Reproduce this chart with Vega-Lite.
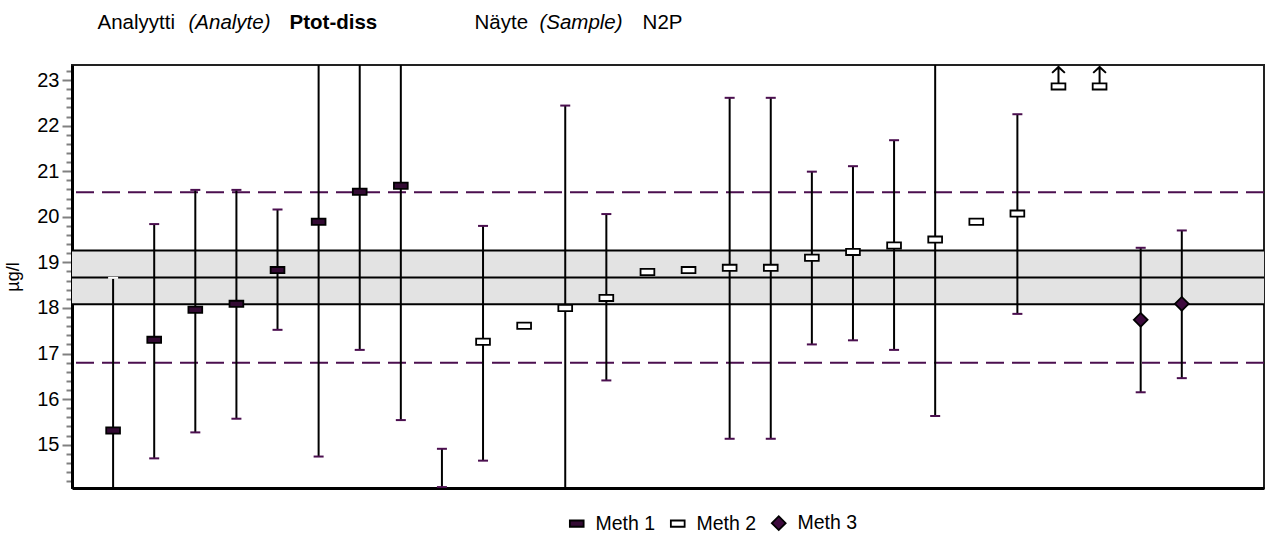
{
  "$schema": "https://vega.github.io/schema/vega-lite/v6.json",
  "width": 1192,
  "height": 423,
  "autosize": "none",
  "padding": {"left": 72, "top": 65, "right": 6, "bottom": 50},
  "background": "white",
  "config": {
    "font": "Liberation Sans",
    "view": {"stroke": "#222222", "strokeWidth": 2}
  },
  "datasets": {
    "labs": [
      {"lab": 1, "method": "Meth 1", "value": 15.31, "lo": 11.96, "hi": 18.66, "off": false},
      {"lab": 2, "method": "Meth 1", "value": 17.30, "lo": 14.70, "hi": 19.84, "off": false},
      {"lab": 3, "method": "Meth 1", "value": 17.96, "lo": 15.27, "hi": 20.59, "off": false},
      {"lab": 4, "method": "Meth 1", "value": 18.09, "lo": 15.57, "hi": 20.59, "off": false},
      {"lab": 5, "method": "Meth 1", "value": 18.83, "lo": 17.52, "hi": 20.16, "off": false},
      {"lab": 6, "method": "Meth 1", "value": 19.89, "lo": 14.74, "hi": 25.0, "off": false},
      {"lab": 7, "method": "Meth 1", "value": 20.55, "lo": 17.08, "hi": 24.0, "off": false},
      {"lab": 8, "method": "Meth 1", "value": 20.68, "lo": 15.54, "hi": 25.8, "off": false},
      {"lab": 9, "method": "Meth 1", "value": null, "lo": 14.07, "hi": 14.91, "off": false},
      {"lab": 10, "method": "Meth 2", "value": 17.26, "lo": 14.65, "hi": 19.80, "off": false},
      {"lab": 11, "method": "Meth 2", "value": 17.61, "lo": null, "hi": null, "off": false},
      {"lab": 12, "method": "Meth 2", "value": 18.00, "lo": 13.56, "hi": 22.44, "off": false},
      {"lab": 13, "method": "Meth 2", "value": 18.22, "lo": 16.41, "hi": 20.06, "off": false},
      {"lab": 14, "method": "Meth 2", "value": 18.79, "lo": null, "hi": null, "off": false},
      {"lab": 15, "method": "Meth 2", "value": 18.83, "lo": null, "hi": null, "off": false},
      {"lab": 16, "method": "Meth 2", "value": 18.88, "lo": 15.13, "hi": 22.61, "off": false},
      {"lab": 17, "method": "Meth 2", "value": 18.88, "lo": 15.13, "hi": 22.61, "off": false},
      {"lab": 18, "method": "Meth 2", "value": 19.10, "lo": 17.20, "hi": 20.99, "off": false},
      {"lab": 19, "method": "Meth 2", "value": 19.23, "lo": 17.29, "hi": 21.11, "off": false},
      {"lab": 20, "method": "Meth 2", "value": 19.37, "lo": 17.08, "hi": 21.68, "off": false},
      {"lab": 21, "method": "Meth 2", "value": 19.50, "lo": 15.63, "hi": 23.40, "off": false},
      {"lab": 22, "method": "Meth 2", "value": 19.89, "lo": null, "hi": null, "off": false},
      {"lab": 23, "method": "Meth 2", "value": 20.07, "lo": 17.87, "hi": 22.25, "off": false},
      {"lab": 24, "method": "Meth 2", "value": 22.86, "lo": null, "hi": null, "off": true},
      {"lab": 25, "method": "Meth 2", "value": 22.86, "lo": null, "hi": null, "off": true},
      {"lab": 26, "method": "Meth 3", "value": 17.74, "lo": 16.15, "hi": 19.32, "off": false},
      {"lab": 27, "method": "Meth 3", "value": 18.09, "lo": 16.46, "hi": 19.70, "off": false}
    ],
    "band": [{"lo": 18.08, "hi": 19.26}],
    "lines": [
      {"kind": "band edge", "y": 18.08},
      {"kind": "assigned", "y": 18.67},
      {"kind": "band edge", "y": 19.26}
    ],
    "limits": [
      {"kind": "lower limit", "y": 16.80},
      {"kind": "upper limit", "y": 20.54}
    ]
  },
  "layer": [
    {
      "data": {"name": "band"},
      "mark": {"type": "rect", "color": "#e3e3e3"},
      "encoding": {
        "y": {"field": "lo", "type": "quantitative", "scale": {"domain": [14.05, 23.33], "nice": false, "zero": false}, "axis": null},
        "y2": {"field": "hi"}
      }
    },
    {
      "data": {"name": "lines"},
      "mark": {"type": "rule", "color": "black", "strokeWidth": 2},
      "encoding": {
        "y": {"field": "y", "type": "quantitative", "scale": {"domain": [14.05, 23.33], "nice": false, "zero": false}, "axis": null}
      }
    },
    {
      "data": {"name": "limits"},
      "mark": {"type": "rule", "color": "#4b0f4f", "strokeWidth": 2, "strokeDash": [18, 8]},
      "encoding": {
        "y": {"field": "y", "type": "quantitative", "scale": {"domain": [14.05, 23.33], "nice": false, "zero": false},
              "axis": {
                "orient": "left", "title": null, "labels": false, "domain": false, "grid": false,
                "values": [14.2, 14.4, 14.6, 14.8, 15.2, 15.4, 15.6, 15.8, 16.2, 16.4, 16.6, 16.8, 17.2, 17.4, 17.6, 17.8, 18.2, 18.4, 18.6, 18.8, 19.2, 19.4, 19.6, 19.8, 20.2, 20.4, 20.6, 20.8, 21.2, 21.4, 21.6, 21.8, 22.2, 22.4, 22.6, 22.8, 23.2],
                "tickColor": "#808080", "tickWidth": 2, "tickSize": 6
              }}
      }
    },
    {
      "data": {"name": "labs"},
      "transform": [{"filter": "datum.lo != null"}],
      "mark": {"type": "rule", "color": "black", "strokeWidth": 2, "clip": true},
      "encoding": {
        "x": {"field": "lab", "type": "quantitative", "scale": {"domain": [0, 29], "nice": false, "zero": false},
              "axis": {"orient": "bottom", "labels": false, "ticks": false, "grid": false, "title": null, "domainColor": "black", "domainWidth": 3}},
        "y": {"field": "lo", "type": "quantitative", "scale": {"domain": [14.05, 23.33], "nice": false, "zero": false}, "axis": null},
        "y2": {"field": "hi"}
      }
    },
    {
      "data": {"name": "labs"},
      "transform": [{"filter": "datum.lo != null"}],
      "mark": {"type": "tick", "orient": "horizontal", "size": 10, "thickness": 2, "clip": true, "opacity": 1},
      "encoding": {
        "x": {"field": "lab", "type": "quantitative", "scale": {"domain": [0, 29], "nice": false, "zero": false}, "axis": null},
        "y": {"field": "lo", "type": "quantitative", "scale": {"domain": [14.05, 23.33], "nice": false, "zero": false}, "axis": null},
        "color": {"value": "#4b0f4f"}
      }
    },
    {
      "data": {"name": "labs"},
      "transform": [{"filter": "datum.hi != null"}],
      "mark": {"type": "tick", "orient": "horizontal", "size": 10, "thickness": 2, "clip": true, "opacity": 1},
      "encoding": {
        "x": {"field": "lab", "type": "quantitative", "scale": {"domain": [0, 29], "nice": false, "zero": false}, "axis": null},
        "y": {"field": "hi", "type": "quantitative", "scale": {"domain": [14.05, 23.33], "nice": false, "zero": false}, "axis": null},
        "color": {"condition": {"test": "datum.lab === 1", "value": "white"}, "value": "#4b0f4f"}
      }
    },
    {
      "data": {"name": "labs"},
      "transform": [{"filter": "datum.off"}],
      "mark": {"type": "point", "shape": "M0,1L0,-1M-0.75,-0.3L0,-1L0.75,-0.3", "filled": false, "stroke": "black", "strokeWidth": 2, "size": 289, "yOffset": -11, "opacity": 1, "clip": true},
      "encoding": {
        "x": {"field": "lab", "type": "quantitative", "scale": {"domain": [0, 29], "nice": false, "zero": false}, "axis": null},
        "y": {"field": "value", "type": "quantitative", "scale": {"domain": [14.05, 23.33], "nice": false, "zero": false}, "axis": null}
      }
    },
    {
      "data": {"name": "labs"},
      "mark": {"type": "point", "filled": true, "stroke": "black", "strokeWidth": 1.8, "size": 190, "opacity": 1, "clip": true},
      "encoding": {
        "x": {"field": "lab", "type": "quantitative", "scale": {"domain": [0, 29], "nice": false, "zero": false},
              "axis": {
                "orient": "top", "title": null, "domain": false, "ticks": false, "tickSize": 0, "grid": false,
                "values": [0.608, 2.822, 5.28, 9.78, 11.36, 13.87],
                "labelExpr": "datum.value < 1 ? 'Analyytti' : datum.value < 3 ? '(Analyte)' : datum.value < 6 ? 'Ptot-diss' : datum.value < 10 ? 'Näyte' : datum.value < 12 ? '(Sample)' : 'N2P'",
                "labelAlign": "left", "labelBaseline": "alphabetic", "labelPadding": 37,
                "labelFontSize": 20.5, "labelColor": "black", "labelFlush": false, "labelOverlap": false, "labelBound": false,
                "labelFontStyle": {"condition": {"test": "(datum.value > 2 && datum.value < 3) || (datum.value > 11 && datum.value < 12)", "value": "italic"}, "value": "normal"},
                "labelFontWeight": {"condition": {"test": "datum.value > 5 && datum.value < 6", "value": "bold"}, "value": "normal"}
              }},
        "y": {"field": "value", "type": "quantitative", "scale": {"domain": [14.05, 23.33], "nice": false, "zero": false},
              "axis": {
                "orient": "left",
                "title": "µg/l", "titleFontSize": 18, "titleFontWeight": "normal", "titleColor": "black", "titlePadding": 14,
                "grid": false, "domainColor": "black", "domainWidth": 3,
                "values": [15, 16, 17, 18, 19, 20, 21, 22, 23],
                "format": "d",
                "labelFontSize": 20, "labelColor": "black", "labelPadding": 3, "labelOverlap": false, "labelFlush": false, "labelBound": false,
                "tickColor": "#808080", "tickWidth": 2, "tickSize": 10
              }},
        "fill": {"field": "method", "type": "nominal",
                 "scale": {"domain": ["Meth 1", "Meth 2", "Meth 3"], "range": ["#330a33", "white", "#3d0a3d"]},
                 "legend": {"title": null, "orient": "none", "legendX": 495, "legendY": 448, "direction": "horizontal",
                            "labelFontSize": 19.5, "labelColor": "black", "symbolSize": 190, "labelOffset": 9, "columnPadding": 11,
                            "padding": 0, "symbolStrokeColor": "black", "symbolStrokeWidth": 1.8}},
        "shape": {"field": "method", "type": "nominal",
                  "scale": {"domain": ["Meth 1", "Meth 2", "Meth 3"], "range": ["M-1,-0.45L1,-0.45L1,0.45L-1,0.45Z", "M-1,-0.45L1,-0.45L1,0.45L-1,0.45Z", "diamond"]}}
      }
    }
  ],
  "resolve": {"axis": {"x": "independent", "y": "independent"}}
}
